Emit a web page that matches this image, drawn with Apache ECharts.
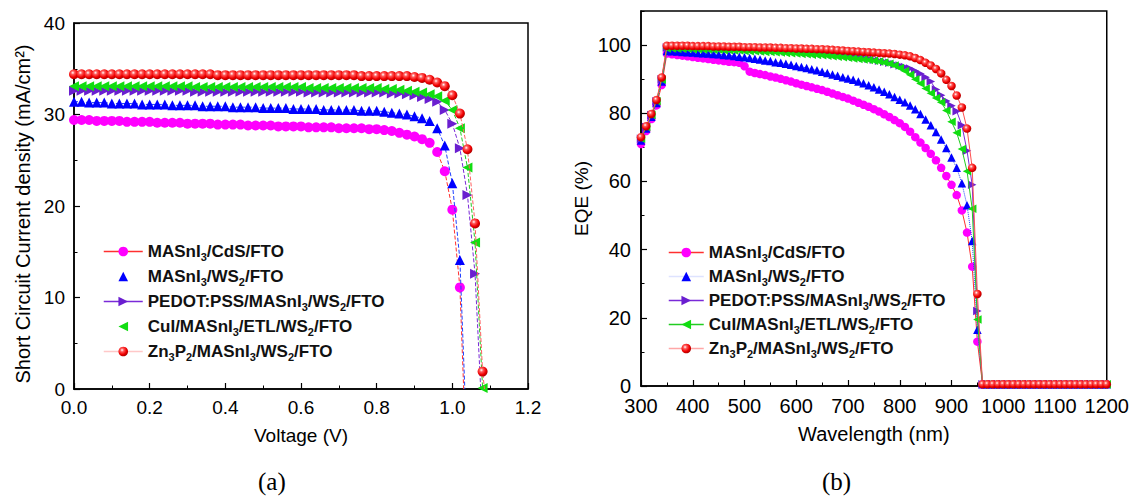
<!DOCTYPE html>
<html><head><meta charset="utf-8">
<script src="https://cdn.jsdelivr.net/npm/echarts@6/dist/echarts.min.js"></script>
<style>html,body{margin:0;padding:0;background:#fff}#c{width:1132px;height:496px}</style>
</head><body><div id="c"></div>
<script>
// ---------- Panel (a): J-V ----------
const voltage = [0.00,0.02,0.04,0.06,0.08,0.10,0.12,0.14,0.16,0.18,
  0.20,0.22,0.24,0.26,0.28,0.30,0.32,0.34,0.36,0.38,
  0.40,0.42,0.44,0.46,0.48,0.50,0.52,0.54,0.56,0.58,
  0.60,0.62,0.64,0.66,0.68,0.70,0.72,0.74,0.76,0.78,
  0.80,0.82,0.84,0.86,0.88,0.90,0.92,0.94,0.96,0.98,
  1.00,1.02,1.04,1.06,1.08];
const jCdS = [29.4,29.4,29.4,29.3,29.3,29.3,29.3,29.2,29.2,29.2,
  29.2,29.1,29.1,29.1,29.1,29.0,29.0,29.0,29.0,28.9,
  28.9,28.9,28.9,28.8,28.8,28.8,28.8,28.7,28.7,28.7,
  28.7,28.6,28.6,28.6,28.6,28.5,28.5,28.5,28.5,28.4,
  28.4,28.3,28.2,28.0,27.8,27.6,27.3,26.9,25.9,23.8,
  19.6,11.1];
const jWS2 = [31.4,31.4,31.3,31.3,31.3,31.2,31.2,31.2,31.2,31.1,
  31.1,31.1,31.1,31.0,31.0,31.0,31.0,30.9,30.9,30.9,
  30.9,30.8,30.8,30.8,30.8,30.7,30.7,30.7,30.7,30.6,
  30.6,30.6,30.6,30.5,30.5,30.5,30.5,30.5,30.4,30.4,
  30.4,30.3,30.2,30.1,30.0,29.8,29.6,29.3,28.5,26.6,
  22.5,14.1];
const jPEDOT = [32.6,32.6,32.6,32.6,32.6,32.6,32.6,32.6,32.6,32.6,
  32.6,32.6,32.6,32.6,32.6,32.6,32.5,32.5,32.5,32.5,
  32.5,32.5,32.5,32.5,32.5,32.5,32.5,32.5,32.5,32.5,
  32.5,32.4,32.4,32.4,32.4,32.4,32.4,32.4,32.4,32.4,
  32.4,32.4,32.3,32.3,32.2,32.1,31.9,31.7,31.4,30.5,
  29.0,26.3,21.2,12.6];
const jCuI = [33.1,33.1,33.1,33.1,33.1,33.1,33.1,33.1,33.1,33.1,
  33.1,33.1,33.1,33.1,33.1,33.1,33.0,33.0,33.0,33.0,
  33.0,33.0,33.0,33.0,33.0,33.0,33.0,33.0,33.0,33.0,
  33.0,32.9,32.9,32.9,32.9,32.9,32.9,32.9,32.9,32.9,
  32.9,32.8,32.8,32.7,32.6,32.5,32.4,32.2,32.0,31.5,
  30.5,28.5,24.2,16.0,0.1];
const jZn3P2 = [34.4,34.4,34.4,34.4,34.4,34.4,34.4,34.4,34.4,34.4,
  34.4,34.4,34.4,34.4,34.4,34.4,34.4,34.4,34.4,34.3,
  34.3,34.3,34.3,34.3,34.3,34.3,34.3,34.3,34.3,34.3,
  34.3,34.3,34.3,34.3,34.3,34.3,34.3,34.3,34.2,34.2,
  34.2,34.2,34.2,34.2,34.2,34.1,34.0,33.8,33.5,33.1,
  32.1,30.1,26.2,18.1,1.9];
// open-circuit voltages where the curves reach zero (no marker)
const vocValues = [1.030, 1.033, 1.075, null, 1.085];

// ---------- Panel (b): EQE ----------
const wavelength = [300,310,320,330,340,350,360,370,380,390,
  400,410,420,430,440,450,460,470,480,490,
  500,510,520,530,540,550,560,570,580,590,
  600,610,620,630,640,650,660,670,680,690,
  700,710,720,730,740,750,760,770,780,790,
  800,810,820,830,840,850,860,870,880,890,
  900,910,920,930,940,950,960,970,980,990,
  1000,1010,1020,1030,1040,1050,1060,1070,1080,1090,
  1100,1110,1120,1130,1140,1150,1160,1170,1180,1190,1200];
const eqeCdS = [71.0,74.8,78.3,82.3,88.3,97.5,97.3,97.1,96.9,96.7,
  96.5,96.3,96.1,95.9,95.7,95.5,95.3,95.1,95.0,94.8,
  93.8,92.2,91.8,91.5,91.2,90.8,90.5,90.1,89.7,89.3,
  88.8,88.4,88.0,87.6,87.2,86.8,86.3,85.8,85.3,84.8,
  84.3,83.7,83.1,82.5,81.9,81.2,80.5,79.7,78.9,78.0,
  77.1,76.0,74.6,73.0,71.4,69.8,68.1,66.2,64.0,61.6,
  59.0,56.0,51.5,45.0,35.0,13.0,0.5,0.5,0.5,0.5,
  0.5,0.5,0.5,0.5,0.5,0.5,0.5,0.5,0.5,0.5,
  0.5,0.5,0.5,0.5,0.5,0.5,0.5,0.5,0.5,0.5,0.5];
const eqeWS2 = [72.0,75.5,79.0,83.0,89.3,98.3,98.2,98.1,98.0,97.9,
  97.8,97.7,97.6,97.5,97.4,97.3,97.1,97.0,96.8,96.6,
  96.4,96.2,96.0,95.8,95.5,95.3,95.0,94.8,94.5,94.2,
  93.9,93.6,93.3,92.9,92.6,92.2,91.8,91.4,91.0,90.6,
  90.2,89.8,89.3,88.8,88.2,87.6,87.0,86.3,85.6,84.8,
  84.0,83.2,82.3,81.2,79.8,78.2,76.5,74.5,72.3,69.8,
  67.0,64.0,59.5,53.0,42.5,16.5,0.5,0.5,0.5,0.5,
  0.5,0.5,0.5,0.5,0.5,0.5,0.5,0.5,0.5,0.5,
  0.5,0.5,0.5,0.5,0.5,0.5,0.5,0.5,0.5,0.5,0.5];
const eqePEDOT = [72.5,76.0,79.5,83.5,90.0,99.3,99.3,99.3,99.2,99.2,
  99.2,99.1,99.1,99.0,99.0,98.9,98.9,98.8,98.8,98.7,
  98.7,98.6,98.6,98.5,98.4,98.4,98.3,98.2,98.1,98.1,
  98.0,97.9,97.8,97.7,97.6,97.5,97.4,97.3,97.1,97.0,
  96.8,96.6,96.4,96.2,96.0,95.7,95.4,95.1,94.8,94.4,
  94.0,93.6,93.1,92.4,91.6,90.6,89.3,87.0,85.3,83.6,
  82.2,80.6,76.5,69.0,59.0,22.0,0.5,0.5,0.5,0.5,
  0.5,0.5,0.5,0.5,0.5,0.5,0.5,0.5,0.5,0.5,
  0.5,0.5,0.5,0.5,0.5,0.5,0.5,0.5,0.5,0.5,0.5];
const eqeCuI = [72.5,76.0,79.5,83.5,89.8,99.0,99.0,98.9,98.9,98.9,
  98.8,98.8,98.7,98.7,98.6,98.6,98.5,98.5,98.4,98.4,
  98.3,98.2,98.2,98.1,98.0,98.0,97.9,97.8,97.7,97.6,
  97.5,97.4,97.3,97.2,97.1,97.0,96.9,96.7,96.6,96.4,
  96.3,96.1,95.9,95.8,95.6,95.4,95.2,94.9,94.5,94.0,
  93.3,92.4,91.3,90.0,88.7,87.3,85.9,84.5,83.2,80.8,
  77.5,74.3,69.5,63.0,52.0,19.5,0.5,0.5,0.5,0.5,
  0.5,0.5,0.5,0.5,0.5,0.5,0.5,0.5,0.5,0.5,
  0.5,0.5,0.5,0.5,0.5,0.5,0.5,0.5,0.5,0.5,0.5];
const eqeZn3P2 = [73.0,76.2,79.8,83.9,90.5,99.8,99.8,99.8,99.8,99.8,
  99.7,99.7,99.7,99.7,99.6,99.6,99.6,99.5,99.5,99.5,
  99.4,99.4,99.4,99.3,99.3,99.3,99.2,99.2,99.1,99.1,
  99.0,99.0,98.9,98.9,98.8,98.8,98.7,98.6,98.5,98.4,
  98.3,98.2,98.1,98.0,97.9,97.8,97.7,97.6,97.5,97.4,
  97.2,97.0,96.7,96.2,95.6,94.8,94.0,93.0,91.7,89.8,
  88.0,85.2,81.7,75.5,64.0,27.0,0.5,0.5,0.5,0.5,
  0.5,0.5,0.5,0.5,0.5,0.5,0.5,0.5,0.5,0.5,
  0.5,0.5,0.5,0.5,0.5,0.5,0.5,0.5,0.5,0.5,0.5];

const seriesNames = ['MASnI3/CdS/FTO','MASnI3/WS2/FTO','PEDOT:PSS/MASnI3/WS2/FTO','CuI/MASnI3/ETL/WS2/FTO','Zn3P2/MASnI3/WS2/FTO'];
const xTicksA = ['0.0','0.2','0.4','0.6','0.8','1.0','1.2'];

// ---------- styling ----------
const FONT = 'Liberation Sans, Arial, sans-serif';
const sphere = {type:'radial', x:0.38, y:0.35, r:0.65, colorStops:[
  {offset:0, color:'#ffffff'},{offset:0.28, color:'#ff5a5a'},{offset:0.7, color:'#f00000'},{offset:1, color:'#b00000'}]};
const styles = [
  {symbol:'circle', rotate:0, color:'#ff00ff', line:'#ff3030', lineB:'#ff3030', typeA:'dashed', typeB:'solid'},
  {symbol:'triangle', rotate:0, color:'#0000ff', line:'#2040ff', lineB:'#2040ff', typeA:'dashed', typeB:'dotted'},
  {symbol:'triangle', rotate:-90, color:'#6a1ed0', line:'#7a2ad8', lineB:'#7a2ad8', typeA:'dashed', typeB:'solid'},
  {symbol:'triangle', rotate:90, color:'#11dd11', line:'#22cc22', lineB:'#22cc22', typeA:'dashed', typeB:'solid'},
  {symbol:'circle', rotate:0, color:sphere, line:'#ff6060', lineB:'#ff5050', typeA:'dashed', typeB:'solid'}
];
const jSets = [jCdS, jWS2, jPEDOT, jCuI, jZn3P2];
const eqeSets = [eqeCdS, eqeWS2, eqePEDOT, eqeCuI, eqeZn3P2];

function legendName(n){ return '{n|' + n.replace(/(\d)/g, '}{s|$1}{n|') + '}'; }
const legendRich = {
  n:{fontSize:17, fontWeight:'bold', fontFamily:FONT, color:'#111', lineHeight:22, verticalAlign:'middle'},
  s:{fontSize:11, fontWeight:'bold', fontFamily:FONT, color:'#111', lineHeight:11, verticalAlign:'bottom'}
};

function axisBase(){
  return {
    axisLine:{show:true, onZero:false, lineStyle:{color:'#000', width:1.5}},
    axisTick:{show:true, inside:true, length:6, lineStyle:{color:'#000', width:1.2}},
    minorTick:{show:true, splitNumber:2, length:3.5, lineStyle:{color:'#000', width:1}},
    splitLine:{show:false},
    axisLabel:{color:'#000', fontSize:19, fontFamily:FONT, margin:9},
    nameLocation:'middle',
    nameTextStyle:{color:'#000', fontSize:19, fontFamily:FONT}
  };
}

const series = [];
jSets.forEach((arr, k) => {
  const st = styles[k];
  const data = arr.map((j, i) => [voltage[i], j]);
  if (vocValues[k] !== null) data.push({value:[vocValues[k], 0], symbol:'none'});
  series.push({
    name: seriesNames[k], type:'line', xAxisIndex:0, yAxisIndex:0,
    data, symbol: st.symbol, symbolSize: 10, symbolRotate: st.rotate, showAllSymbol:true,
    itemStyle:{color: st.color}, lineStyle:{color: st.line, width:1, type: st.typeA},
    clip:false, z: 2 + k
  });
});
eqeSets.forEach((arr, k) => {
  const st = styles[k];
  series.push({
    name: seriesNames[k], type:'line', xAxisIndex:1, yAxisIndex:1,
    data: arr.map((e, i) => [wavelength[i], e]),
    symbol: st.symbol, symbolSize: 8.5, symbolRotate: st.rotate, showAllSymbol:true,
    itemStyle:{color: st.color}, lineStyle:{color: st.lineB, width:1, type: st.typeB},
    clip:false, z: 2 + k
  });
});

const legendA = seriesNames.map((n, k) => ({
  name:n, itemStyle:{color: styles[k].color},
  lineStyle:{color: styles[k].line, width:1.5, type:'solid', opacity: (k===1||k===3) ? 0 : (k===4 ? 0.35 : 1)}
}));
const legendB = seriesNames.map((n, k) => ({
  name:n, itemStyle:{color: styles[k].color},
  lineStyle:{color: styles[k].lineB, width:1.5, type:'solid', opacity: (k===1) ? 0.15 : (k===4 ? 0.5 : 1)}
}));

const xA = Object.assign(axisBase(), {
  gridIndex:0, type:'value', min:0, max:1.2, interval:0.2,
  name:'Voltage (V)', nameGap:37,
});
xA.axisLabel.formatter = v => xTicksA[Math.round(v/0.2)];
const yA = Object.assign(axisBase(), {
  gridIndex:0, type:'value', min:0, max:40, interval:10
});
const xB = Object.assign(axisBase(), {
  gridIndex:1, type:'value', min:300, max:1200, interval:100,
  name:'Wavelength (nm)', nameGap:38
});
xB.axisLabel.formatter = v => String(v);
xB.axisLabel.fontSize = 20;
xB.axisLabel.margin = 10;
xB.nameTextStyle = {color:'#000', fontSize:20, fontFamily:FONT};
const yB = Object.assign(axisBase(), {
  gridIndex:1, type:'value', min:0, max:110, interval:20,
  name:'EQE (%)', nameGap:50
});
yB.minorTick = {show:false};
yB.axisLabel.showMaxLabel = false;
yB.axisLabel.fontSize = 20;
yB.axisLabel.margin = 10;
const yBminor = {
  gridIndex:1, type:'value', min:0, max:110, interval:10, position:'left',
  axisLine:{show:false}, axisLabel:{show:false}, splitLine:{show:false},
  axisTick:{show:true, inside:true, length:3.5, lineStyle:{color:'#000', width:1}}
};

const chart = echarts.init(document.getElementById('c'), null, {renderer:'svg'});
chart.setOption({
  animation:false,
  backgroundColor:'#fff',
  grid:[
    {left:74, top:23, width:454, height:366, show:true, borderColor:'#000', borderWidth:1.5},
    {left:641, top:11, width:468, height:375, show:true, borderColor:'#000', borderWidth:1.5}
  ],
  xAxis:[xA, xB],
  yAxis:[yA, yB, yBminor],
  legend:[
    {data:legendA, orient:'vertical', left:103, top:243, padding:0, itemWidth:39, itemHeight:12, itemGap:5.5,
     formatter: legendName, textStyle:{rich: legendRich}, selectedMode:false},
    {data:legendB, orient:'vertical', left:668, top:244, padding:0, itemWidth:35, itemHeight:12, itemGap:4.5,
     formatter: legendName, textStyle:{rich: legendRich}, selectedMode:false}
  ],
  graphic:[
    {type:'text', x:23, y:214, rotation:Math.PI/2,
     style:{text:'Short Circuit Current density (mA/cm\u00B2)', align:'center', verticalAlign:'middle',
       font:'20px "Liberation Sans", Arial, sans-serif', fill:'#000'}},
    {type:'text', left:258, top:469, style:{text:'(a)', font:'25px "Liberation Serif", "Times New Roman", serif', fill:'#000'}},
    {type:'text', left:822, top:469, style:{text:'(b)', font:'25px "Liberation Serif", "Times New Roman", serif', fill:'#000'}}
  ],
  series
});
</script></body></html>
